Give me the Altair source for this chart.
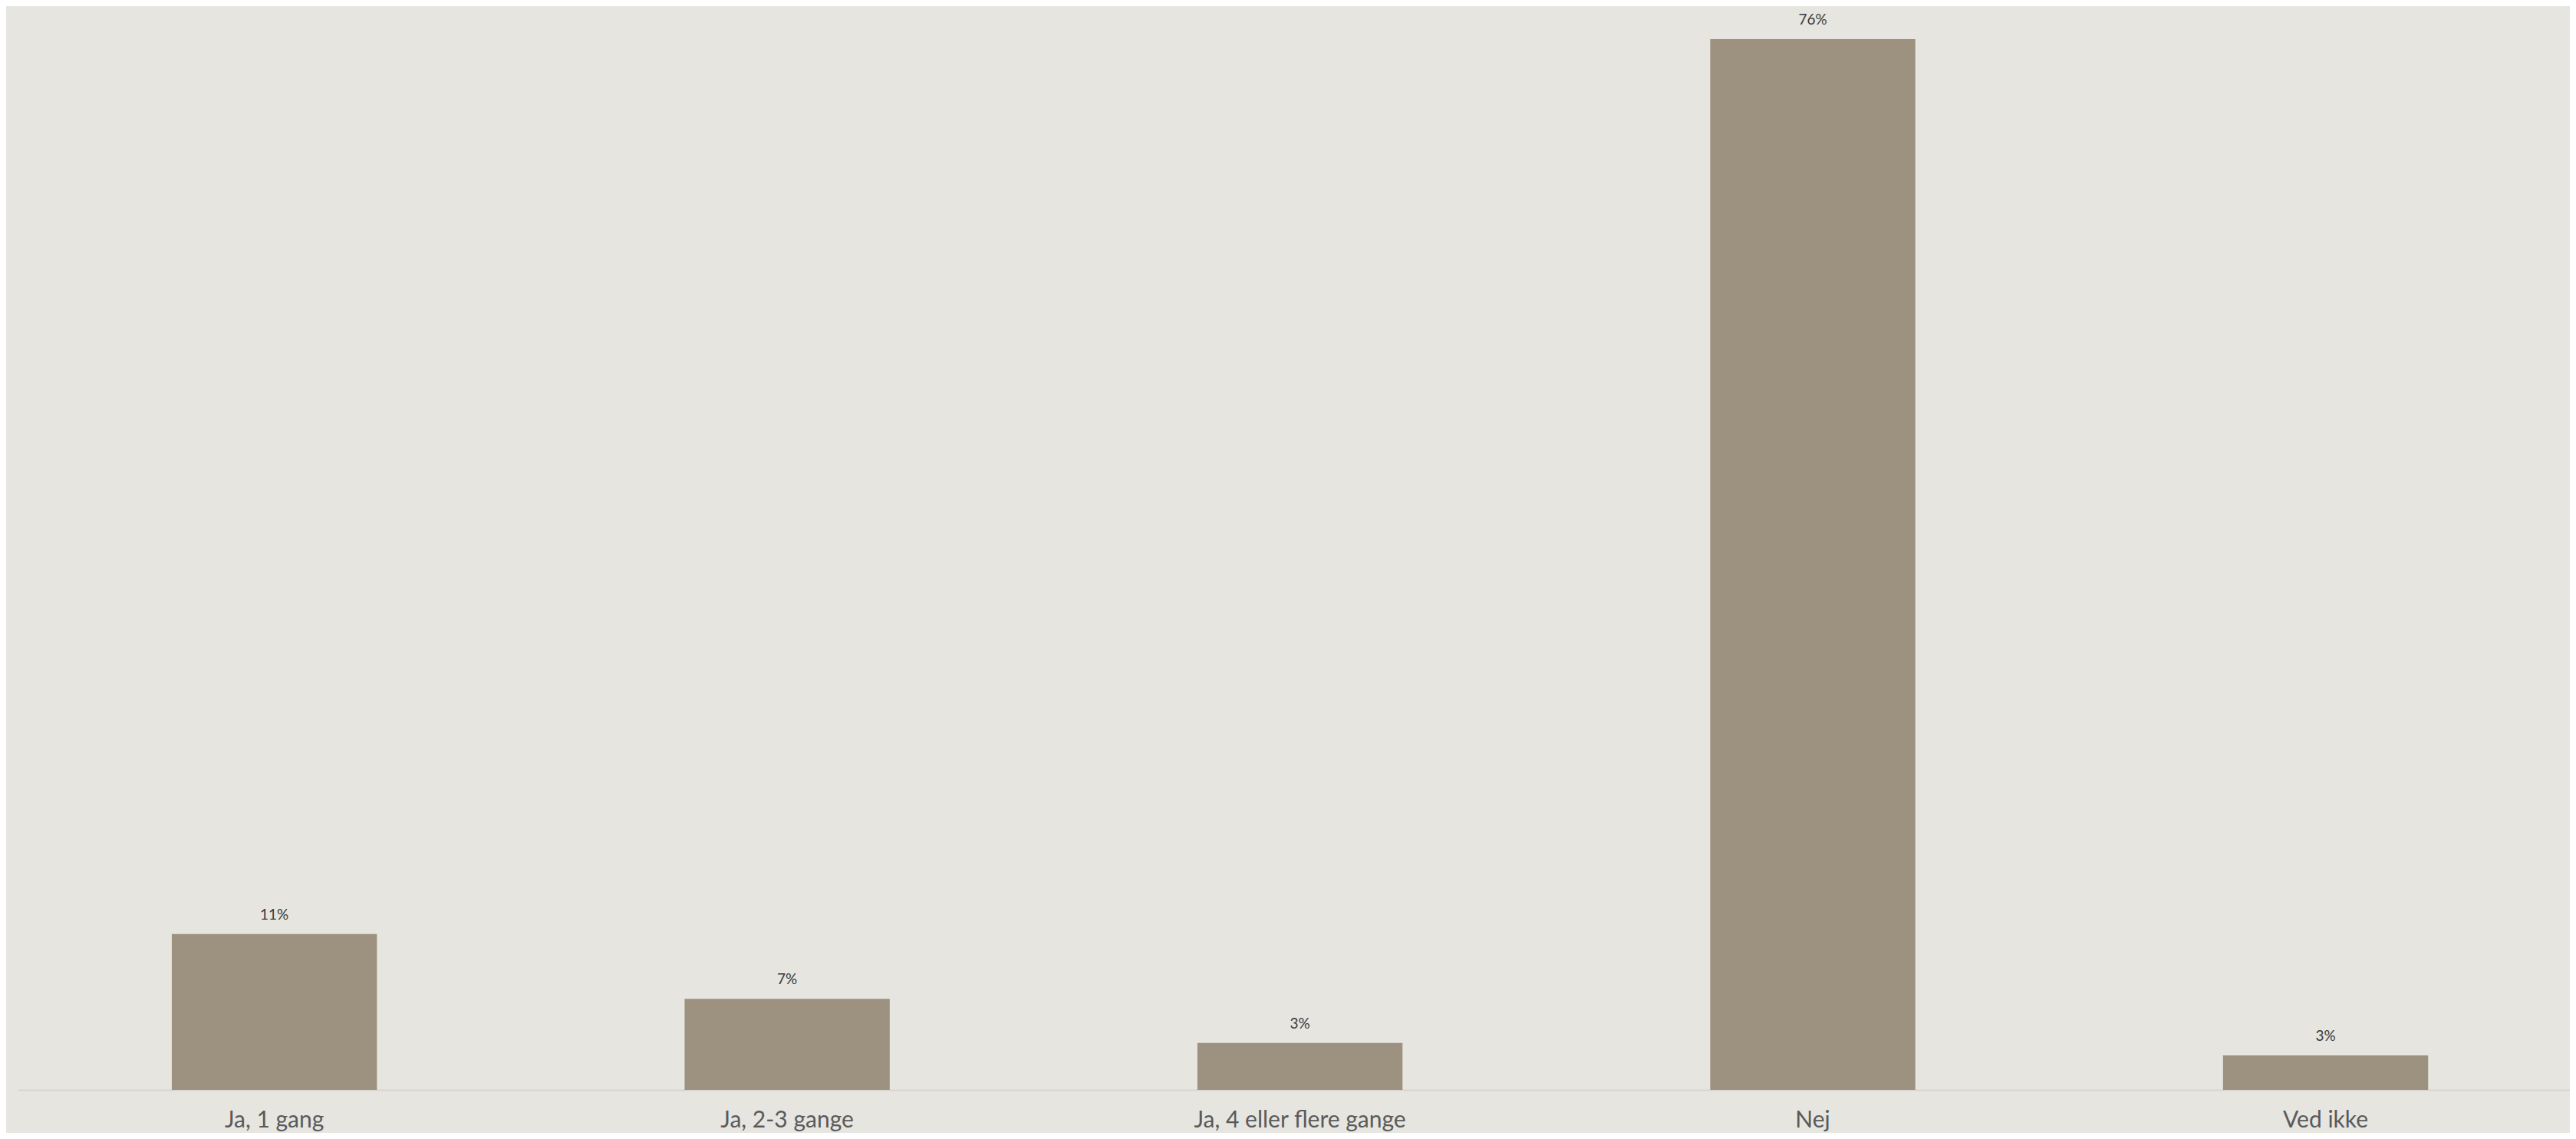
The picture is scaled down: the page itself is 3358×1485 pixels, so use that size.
import altair as alt
import pandas as pd

categories = ["Ja, 1 gang", "Ja, 2-3 gange", "Ja, 4 eller flere gange", "Nej", "Ved ikke"]
values = [11.3, 6.6, 3.4, 76.2, 2.5]
labels = ["11%", "7%", "3%", "76%", "3%"]

df = pd.DataFrame({"cat": categories, "val": values, "lab": labels})

FONT = "Lato"

x = alt.X("cat:N", sort=categories, title=None,
          scale=alt.Scale(paddingInner=0.6, paddingOuter=0.2885, align=0.521),
          axis=alt.Axis(labelAngle=0, labelFontSize=30, labelColor="#5a5a5a",
                        labelFont=FONT, ticks=False, domainColor="#d6d5cf",
                        domainWidth=2, labelPadding=24, labelLimit=0))
y = alt.Y("val:Q", title=None, scale=alt.Scale(domain=[0, 76.2], nice=False, zero=True),
          axis=None)

bars = alt.Chart(df).mark_bar(color="#9d927f").encode(x=x, y=y)
text = alt.Chart(df).mark_text(baseline="middle", dy=-25, fontSize=19,
                               color="#3a3a3a", font=FONT).encode(
    x=alt.X("cat:N", sort=categories), y="val:Q", text="lab:N")

chart = (bars + text).properties(
    width=3327, height=1370,
    background="#e6e5e0",
    autosize=alt.AutoSizeParams(type="none"),
    padding={"left": 15, "top": 43, "right": 0, "bottom": 56},
).configure_view(stroke=None).configure_axis(grid=False)

chart.save("out.html", embed_options={"renderer": "svg", "actions": False})
